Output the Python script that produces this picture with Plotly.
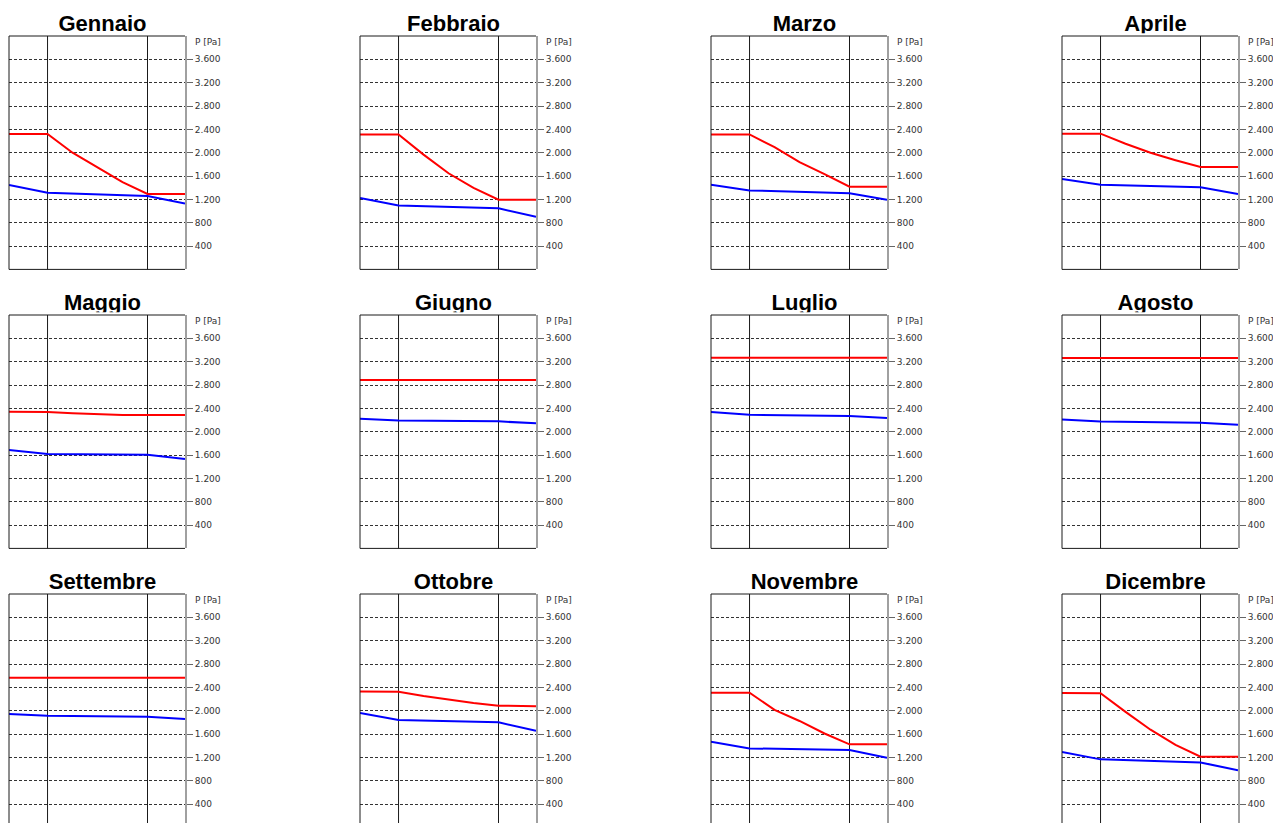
import plotly.graph_objects as go

# ---------------- data ----------------
MONTHS = ["Gennaio", "Febbraio", "Marzo", "Aprile",
          "Maggio", "Giugno", "Luglio", "Agosto",
          "Settembre", "Ottobre", "Novembre", "Dicembre"]

# positions across the wall section (fraction of panel width)
RED_X = [0.0, 0.219, 0.361, 0.503, 0.645, 0.787, 1.0]
BLUE_X = [0.0, 0.219, 0.787, 1.0]
LAYER_LINES = [0.219, 0.787]

# saturation pressure (red) [Pa]
RED_GEN = [2320, 2320, 2000, 1745, 1495, 1292, 1292]
RED_FEB = [2314, 2314, 1967, 1648, 1397, 1195, 1195]
RED_MAR = [2314, 2314, 2094, 1839, 1633, 1417, 1417]
RED_APR = [2326, 2326, 2153, 2000, 1872, 1754, 1754]
RED_MAG = [2340, 2337, 2318, 2300, 2288, 2285, 2285]
RED_GIU = [2885, 2885, 2885, 2885, 2885, 2885, 2885]
RED_LUG = [3269, 3269, 3269, 3269, 3269, 3269, 3269]
RED_AGO = [3263, 3263, 3263, 3263, 3263, 3263, 3263]
RED_SET = [2566, 2566, 2566, 2566, 2566, 2566, 2566]
RED_OTT = [2331, 2326, 2253, 2188, 2132, 2086, 2078]
RED_NOV = [2309, 2309, 2013, 1824, 1609, 1423, 1423]
RED_DIC = [2305, 2300, 1980, 1674, 1416, 1211, 1211]

# partial vapour pressure (blue) [Pa]
BLUE_GEN = [1446, 1314, 1257, 1131]
BLUE_FEB = [1223, 1097, 1046, 903]
BLUE_MAR = [1451, 1354, 1303, 1194]
BLUE_APR = [1549, 1451, 1406, 1291]
BLUE_MAG = [1686, 1617, 1606, 1531]
BLUE_GIU = [2223, 2194, 2177, 2143]
BLUE_LUG = [2337, 2291, 2268, 2233]
BLUE_AGO = [2210, 2175, 2155, 2120]
BLUE_SET = [1943, 1914, 1897, 1857]
BLUE_OTT = [1960, 1840, 1800, 1657]
BLUE_NOV = [1469, 1354, 1326, 1194]
BLUE_DIC = [1291, 1166, 1114, 977]

RED = [RED_GEN, RED_FEB, RED_MAR, RED_APR, RED_MAG, RED_GIU,
       RED_LUG, RED_AGO, RED_SET, RED_OTT, RED_NOV, RED_DIC]
BLUE = [BLUE_GEN, BLUE_FEB, BLUE_MAR, BLUE_APR, BLUE_MAG, BLUE_GIU,
        BLUE_LUG, BLUE_AGO, BLUE_SET, BLUE_OTT, BLUE_NOV, BLUE_DIC]

TICK_VALUES = [400, 800, 1200, 1600, 2000, 2400, 2800, 3200, 3600]
TICK_LABELS = ["400", "800", "1.200", "1.600", "2.000", "2.400", "2.800", "3.200", "3.600"]
Y_MAX = 4000
AXIS_LABEL = "P [Pa]"

# ---------------- layout geometry ----------------
W, H = 1273, 823
COL_LEFT = [9, 360, 711, 1062]
ROW_TOP = [36, 315, 594]
PW, PH = 176, 233.4

fig = go.Figure()
layout = dict(
    width=W, height=H, autosize=False,
    margin=dict(l=0, r=0, t=0, b=0, pad=0),
    paper_bgcolor="white", plot_bgcolor="rgba(0,0,0,0)",
    showlegend=False,
)
shapes = []
annotations = []

TITLE_FONT = dict(family="Liberation Sans, Arial, sans-serif", size=22, color="black")
TICK_FONT = dict(family="DejaVu Sans, sans-serif", size=9, color="#333333")


def ax_name(kind, n):
    return kind + ("" if n == 1 else str(n))


for i, month in enumerate(MONTHS):
    r, c = divmod(i, 4)
    n = i + 1
    x0p = COL_LEFT[c]
    x1p = x0p + PW
    top = ROW_TOP[r]
    bot = top + PH
    ylo = 0.0
    if bot > H:
        ylo = (bot - H) / PH * Y_MAX
        bot = H
    xd = [x0p / W, x1p / W]
    yd = [max(0.0, 1 - bot / H), 1 - top / H]

    xa = ax_name("x", n)
    ya = ax_name("y", n)
    layout[ax_name("xaxis", n)] = dict(
        domain=xd, range=[0, 1], visible=False, fixedrange=True, anchor=ya,
    )
    layout[ax_name("yaxis", n)] = dict(
        domain=yd, range=[ylo, Y_MAX], anchor=xa, side="right",
        tickvals=TICK_VALUES, ticktext=TICK_LABELS,
        ticks="outside", ticklen=6, tickwidth=1, tickcolor="#666666",
        showline=True, linecolor="#a0a0a0", linewidth=2,
        showgrid=True, gridcolor="#333333", gridwidth=1, griddash="3px,2px",
        zeroline=False, tickfont=TICK_FONT, fixedrange=True,
    )

    # frame (left, top, bottom)
    line_k = dict(color="#1a1a1a", width=1)
    shapes.append(dict(type="line", xref=xa + " domain", yref=ya + " domain",
                       x0=0, x1=0, y0=0, y1=1, line=line_k, layer="above"))
    shapes.append(dict(type="line", xref=xa + " domain", yref=ya + " domain",
                       x0=0, x1=1, y0=1, y1=1, line=line_k, layer="above"))
    if ylo == 0:
        shapes.append(dict(type="line", xref=xa + " domain", yref=ya + " domain",
                           x0=0, x1=1, y0=0, y1=0, line=line_k, layer="above"))
    for lx in LAYER_LINES:
        shapes.append(dict(type="line", xref=xa, yref=ya + " domain",
                           x0=lx, x1=lx, y0=0, y1=1, line=line_k, layer="below"))

    fig.add_trace(go.Scatter(x=RED_X, y=RED[i], mode="lines",
                             line=dict(color="#ff0000", width=2),
                             xaxis=xa, yaxis=ya, hoverinfo="skip"))
    fig.add_trace(go.Scatter(x=BLUE_X, y=BLUE[i], mode="lines",
                             line=dict(color="#0000ff", width=2),
                             xaxis=xa, yaxis=ya, hoverinfo="skip"))

    annotations.append(dict(
        text=AXIS_LABEL, xref="paper", yref="paper",
        x=(x1p + 8) / W, y=1 - (top + 6) / H, xanchor="left", yanchor="middle",
        showarrow=False, font=TICK_FONT,
    ))

    # title on its own clipped axis (descenders cut, as in the reference)
    m = i + 13
    txa = ax_name("x", m)
    tya = ax_name("y", m)
    clip = top - 2.7
    layout[ax_name("xaxis", m)] = dict(
        domain=[(x0p + 5.5) / W, (x1p + 5.5) / W], range=[0, 1],
        visible=False, fixedrange=True, anchor=tya,
    )
    layout[ax_name("yaxis", m)] = dict(
        domain=[1 - clip / H, min(1.0, 1 - (clip - 32) / H)], range=[0, 32],
        visible=False, fixedrange=True, anchor=txa,
    )
    fig.add_trace(go.Scatter(
        x=[0.5], y=[7.5], mode="text", text=["<b>" + month + "</b>"],
        textposition="middle center", textfont=TITLE_FONT,
        cliponaxis=True, xaxis=txa, yaxis=tya, hoverinfo="skip",
    ))

layout["shapes"] = shapes
layout["annotations"] = annotations
fig.update_layout(**layout)
fig.write_html(
    "out.html",
    config={"displayModeBar": False, "staticPlot": True},
    post_script="document.body.style.margin='0';document.body.style.overflow='hidden';",
)
